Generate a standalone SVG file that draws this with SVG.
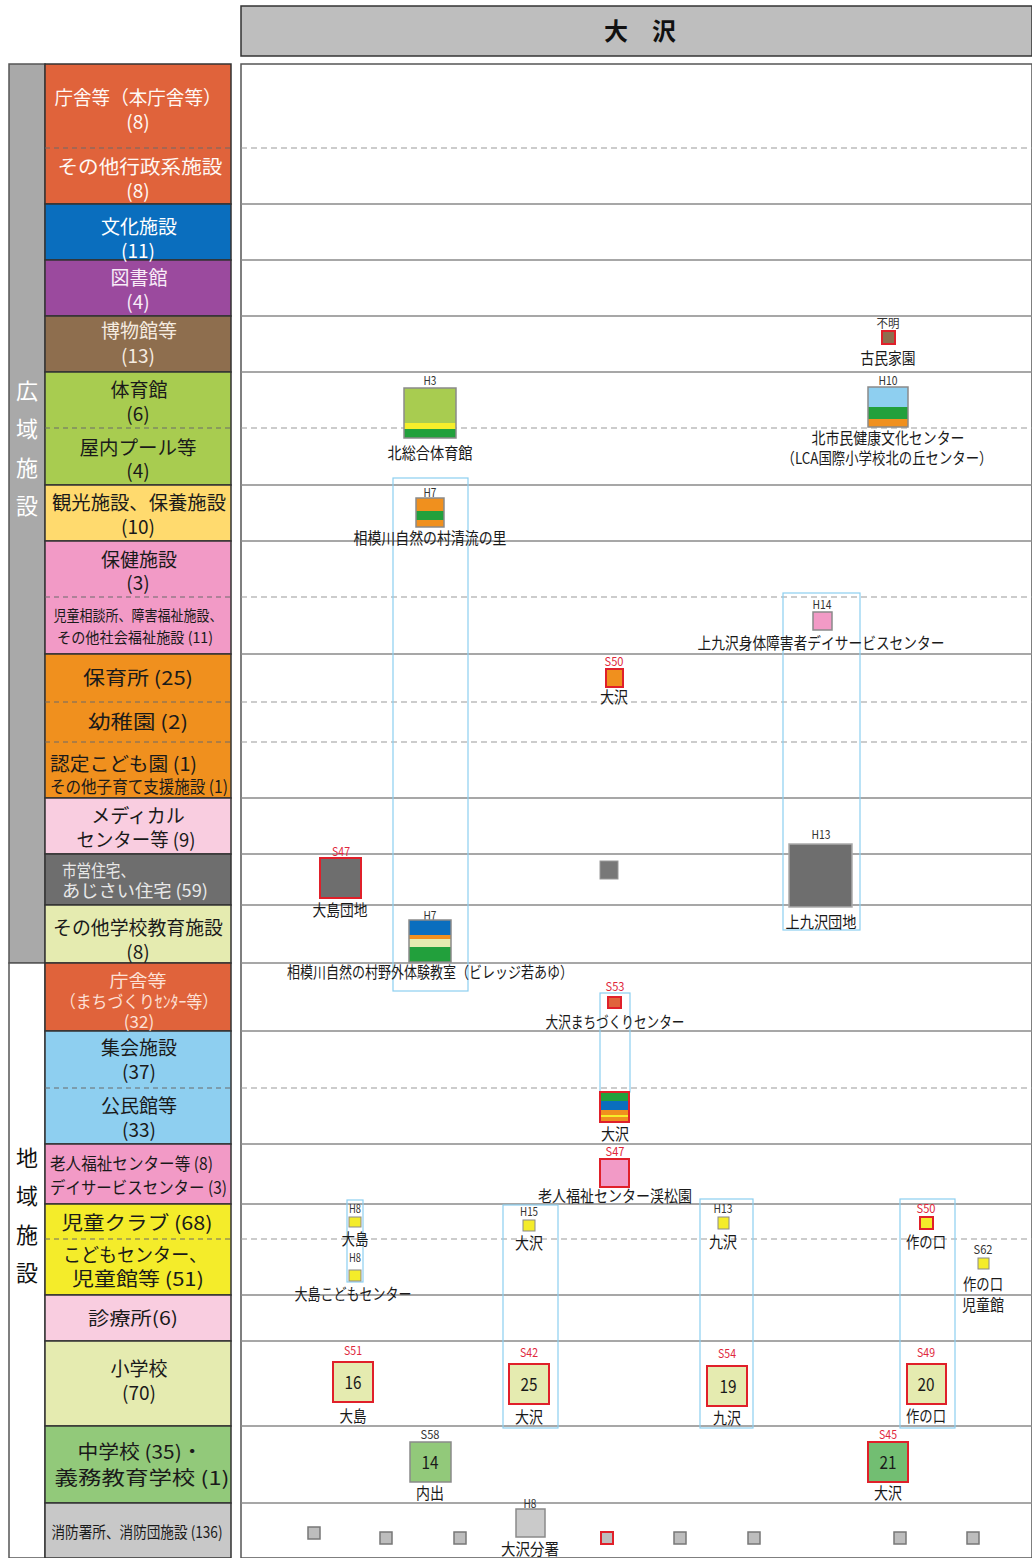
<svg xmlns="http://www.w3.org/2000/svg" width="1032" height="1558" viewBox="0 0 1032 1558">
<style>
text{font-family:"Noto Sans CJK JP","Noto Sans",sans-serif;text-anchor:middle;dominant-baseline:central}
.c{font-size:19px;fill:#1a1a1a}
.w{fill:#fff8f4}
.l{font-size:16px;fill:#1a1a1a}
.k{font-size:12px;fill:#333}
.r{fill:#E0283C}
.n{font-size:18px;fill:#1a1a1a}
.v{font-size:22px}
.sl{stroke:#8a8a8a;stroke-width:1.5;fill:none}
.dl{stroke:#9a9a9a;stroke-width:1.2;stroke-dasharray:6 4;fill:none}
.cd{stroke:#6a6a6a;stroke-width:1;stroke-dasharray:5 4;fill:none}
.cell{stroke:#333;stroke-width:1.5}
.grp{fill:none;stroke:#8CCFF0;stroke-width:1.2}
.bx{stroke:#8a8a8a;stroke-width:1.5}
.rb{stroke:#E0202A;stroke-width:2}
.fs{fill:#BDBDBD;stroke:#777;stroke-width:1.5}
</style>
<rect x="0" y="0" width="1032" height="1558" fill="#fff"/>

<g id="header">
<rect x="241" y="6" width="791" height="50" fill="#BEBEBE" stroke="#333" stroke-width="1.5"/>
<text x="640" y="29" font-size="24" font-weight="bold" fill="#111">大　沢</text>
</g>

<g id="panel">
<rect x="241" y="64" width="791" height="1494" fill="#fff" stroke="#555" stroke-width="1.5"/>
<g class="sl">
<line x1="241" y1="204" x2="1032" y2="204"/><line x1="241" y1="260" x2="1032" y2="260"/>
<line x1="241" y1="316" x2="1032" y2="316"/><line x1="241" y1="372" x2="1032" y2="372"/>
<line x1="241" y1="485" x2="1032" y2="485"/><line x1="241" y1="541" x2="1032" y2="541"/>
<line x1="241" y1="654" x2="1032" y2="654"/><line x1="241" y1="798" x2="1032" y2="798"/>
<line x1="241" y1="854" x2="1032" y2="854"/><line x1="241" y1="905" x2="1032" y2="905"/>
<line x1="241" y1="963" x2="1032" y2="963"/><line x1="241" y1="1031" x2="1032" y2="1031"/>
<line x1="241" y1="1144" x2="1032" y2="1144"/><line x1="241" y1="1204" x2="1032" y2="1204"/>
<line x1="241" y1="1295" x2="1032" y2="1295"/><line x1="241" y1="1341" x2="1032" y2="1341"/>
<line x1="241" y1="1426" x2="1032" y2="1426"/><line x1="241" y1="1503" x2="1032" y2="1503"/>
</g>
<g class="dl">
<line x1="241" y1="148" x2="1032" y2="148"/><line x1="241" y1="428" x2="1032" y2="428"/>
<line x1="241" y1="597" x2="1032" y2="597"/><line x1="241" y1="702" x2="1032" y2="702"/>
<line x1="241" y1="742" x2="1032" y2="742"/><line x1="241" y1="1088" x2="1032" y2="1088"/>
<line x1="241" y1="1239" x2="1032" y2="1239"/>
</g>
</g>

<g id="side">
<rect x="9" y="64" width="36" height="899" fill="#A9A9A9" stroke="#555" stroke-width="1.5"/>
<rect x="9" y="963" width="36" height="595" fill="#fff" stroke="#555" stroke-width="1.5"/>
<g class="v" fill="#fff">
<text x="27" y="389">広</text><text x="27" y="427">域</text><text x="27" y="466">施</text><text x="27" y="504">設</text>
</g>
<g class="v" fill="#111">
<text x="27" y="1156">地</text><text x="27" y="1194">域</text><text x="27" y="1233">施</text><text x="27" y="1271">設</text>
</g>
</g>

<g id="categories">
<rect class="cell" x="45" y="64" width="186" height="140" fill="#E0633B"/>
<line class="cd" x1="45" y1="148" x2="231" y2="148"/>
<rect class="cell" x="45" y="204" width="186" height="56" fill="#0A6EBE"/>
<rect class="cell" x="45" y="260" width="186" height="56" fill="#9B4A9E"/>
<rect class="cell" x="45" y="316" width="186" height="56" fill="#8E6E4E"/>
<rect class="cell" x="45" y="372" width="186" height="113" fill="#A8CC50"/>
<line class="cd" x1="45" y1="428" x2="231" y2="428"/>
<rect class="cell" x="45" y="485" width="186" height="56" fill="#FFDA6E"/>
<rect class="cell" x="45" y="541" width="186" height="113" fill="#F29AC6"/>
<line class="cd" x1="45" y1="597" x2="231" y2="597"/>
<rect class="cell" x="45" y="654" width="186" height="144" fill="#F0901E"/>
<line class="cd" x1="45" y1="702" x2="231" y2="702"/>
<line class="cd" x1="45" y1="742" x2="231" y2="742"/>
<rect class="cell" x="45" y="798" width="186" height="56" fill="#F9CDE0"/>
<rect class="cell" x="45" y="854" width="186" height="51" fill="#6E6E6E"/>
<rect class="cell" x="45" y="905" width="186" height="58" fill="#E5EBB0"/>
<rect class="cell" x="45" y="963" width="186" height="68" fill="#E0633B"/>
<rect class="cell" x="45" y="1031" width="186" height="113" fill="#8ECFF0"/>
<line class="cd" x1="45" y1="1088" x2="231" y2="1088"/>
<rect class="cell" x="45" y="1144" width="186" height="60" fill="#F29AC6"/>
<rect class="cell" x="45" y="1204" width="186" height="91" fill="#F4EC2A"/>
<line class="cd" x1="45" y1="1239" x2="231" y2="1239"/>
<rect class="cell" x="45" y="1295" width="186" height="46" fill="#F9CDE0"/>
<rect class="cell" x="45" y="1341" width="186" height="85" fill="#E5EBB0"/>
<rect class="cell" x="45" y="1426" width="186" height="77" fill="#92C97A"/>
<rect class="cell" x="45" y="1503" width="186" height="55" fill="#C8C8C8"/>

<text class="c w" x="138" y="96" textLength="167" lengthAdjust="spacingAndGlyphs">庁舎等（本庁舎等）</text>
<text class="c w" x="138" y="120">(8)</text>
<text class="c w" x="140" y="165" textLength="165" lengthAdjust="spacingAndGlyphs">その他行政系施設</text>
<text class="c w" x="138" y="189">(8)</text>
<text class="c" x="139" y="225" style="fill:#fff">文化施設</text>
<text class="c" x="138" y="249" style="fill:#fff">(11)</text>
<text class="c" x="139" y="276" style="fill:#f8ecf8">図書館</text>
<text class="c" x="138" y="300" style="fill:#f8ecf8">(4)</text>
<text class="c" x="139" y="329" style="fill:#f5ebe0">博物館等</text>
<text class="c" x="138" y="354" style="fill:#f5ebe0">(13)</text>
<text class="c" x="139" y="388">体育館</text>
<text class="c" x="138" y="412">(6)</text>
<text class="c" x="138" y="446" textLength="117" lengthAdjust="spacingAndGlyphs">屋内プール等</text>
<text class="c" x="138" y="469">(4)</text>
<text class="c" x="139" y="501" textLength="174" lengthAdjust="spacingAndGlyphs">観光施設、保養施設</text>
<text class="c" x="138" y="525">(10)</text>
<text class="c" x="139" y="558">保健施設</text>
<text class="c" x="138" y="581">(3)</text>
<text class="c" x="138" y="614" style="font-size:15px" textLength="169" lengthAdjust="spacingAndGlyphs">児童相談所、障害福祉施設、</text>
<text class="c" x="135" y="636" style="font-size:15px" textLength="156" lengthAdjust="spacingAndGlyphs">その他社会福祉施設 (11)</text>
<text class="c" x="138" y="676" textLength="110" lengthAdjust="spacingAndGlyphs">保育所 (25)</text>
<text class="c" x="138" y="720" textLength="100" lengthAdjust="spacingAndGlyphs">幼稚園 (2)</text>
<text class="c" x="50" y="762" style="text-anchor:start" textLength="147" lengthAdjust="spacingAndGlyphs">認定こども園 (1)</text>
<text class="c" x="50" y="785" style="text-anchor:start;font-size:17px" textLength="178" lengthAdjust="spacingAndGlyphs">その他子育て支援施設 (1)</text>
<text class="c" x="138" y="814">メディカル</text>
<text class="c" x="136" y="838" textLength="119" lengthAdjust="spacingAndGlyphs">センター等 (9)</text>
<text class="c" x="62" y="869" style="text-anchor:start;fill:#e8e8e8;font-size:17px" textLength="73" lengthAdjust="spacingAndGlyphs">市営住宅、</text>
<text class="c" x="62" y="889" style="text-anchor:start;fill:#e8e8e8;font-size:17px" textLength="146" lengthAdjust="spacingAndGlyphs">あじさい住宅 (59)</text>
<text class="c" x="138" y="926" textLength="170" lengthAdjust="spacingAndGlyphs">その他学校教育施設</text>
<text class="c" x="138" y="950">(8)</text>
<text class="c" x="138" y="979" style="fill:#fde0d6;font-size:17px" textLength="57" lengthAdjust="spacingAndGlyphs">庁舎等</text>
<text class="c" x="139" y="1000" style="fill:#fde0d6;font-size:17px" textLength="158" lengthAdjust="spacingAndGlyphs">（まちづくりｾﾝﾀｰ等）</text>
<text class="c" x="139" y="1020" style="fill:#fde0d6;font-size:17px">(32)</text>
<text class="c" x="139" y="1046">集会施設</text>
<text class="c" x="139" y="1070">(37)</text>
<text class="c" x="139" y="1104">公民館等</text>
<text class="c" x="139" y="1128">(33)</text>
<text class="c" x="50" y="1162" style="text-anchor:start;font-size:17px" textLength="163" lengthAdjust="spacingAndGlyphs">老人福祉センター等 (8)</text>
<text class="c" x="50" y="1186" style="text-anchor:start;font-size:17px" textLength="177" lengthAdjust="spacingAndGlyphs">デイサービスセンター (3)</text>
<text class="c" x="137" y="1221" textLength="151" lengthAdjust="spacingAndGlyphs">児童クラブ (68)</text>
<text class="c" x="135" y="1253" textLength="144" lengthAdjust="spacingAndGlyphs">こどもセンター、</text>
<text class="c" x="138" y="1277" textLength="132" lengthAdjust="spacingAndGlyphs">児童館等 (51)</text>
<text class="c" x="133" y="1317" style="font-size:18px" textLength="90" lengthAdjust="spacingAndGlyphs">診療所(6)</text>
<text class="c" x="139" y="1367">小学校</text>
<text class="c" x="139" y="1391">(70)</text>
<text class="c" x="140" y="1450" textLength="125" lengthAdjust="spacingAndGlyphs">中学校 (35)・</text>
<text class="c" x="142" y="1476" textLength="175" lengthAdjust="spacingAndGlyphs">義務教育学校 (1)</text>
<text class="c" x="137" y="1531" style="font-size:16px" textLength="171" lengthAdjust="spacingAndGlyphs">消防署所、消防団施設 (136)</text>
</g>

<g id="connectors">
<rect class="grp" x="393" y="478" width="75" height="513"/>
<rect class="grp" x="783" y="593" width="77" height="337"/>
<rect class="grp" x="600" y="993" width="30" height="99"/>
<rect class="grp" x="347" y="1200" width="16" height="82"/>
<rect class="grp" x="503" y="1205" width="55" height="223"/>
<rect class="grp" x="700" y="1199" width="53" height="229"/>
<rect class="grp" x="900" y="1199" width="55" height="229"/>
</g>

<g id="node-kominkaen">
<text class="k" x="888" y="322" textLength="23" lengthAdjust="spacingAndGlyphs">不明</text>
<rect class="rb" x="882" y="331" width="13" height="13" fill="#8E6E4E"/>
<text class="l" x="888" y="357" textLength="55" lengthAdjust="spacingAndGlyphs">古民家園</text>
</g>

<g id="node-kitashimin">
<text class="k" x="888" y="379" textLength="19" lengthAdjust="spacingAndGlyphs">H10</text>
<rect x="868" y="387" width="40" height="20" fill="#8ECFF0"/>
<rect x="868" y="407" width="40" height="12" fill="#22A03C"/>
<rect x="868" y="419" width="40" height="8" fill="#F0901E"/>
<rect class="bx" x="868" y="387" width="40" height="40" fill="none"/>
<text class="l" x="888" y="437" textLength="153" lengthAdjust="spacingAndGlyphs">北市民健康文化センター</text>
<text class="l" x="887" y="457" textLength="211" lengthAdjust="spacingAndGlyphs">（LCA国際小学校北の丘センター）</text>
</g>

<g id="node-kitasogo">
<text class="k" x="430" y="379" textLength="13" lengthAdjust="spacingAndGlyphs">H3</text>
<rect x="404" y="388" width="52" height="35" fill="#A8CC50"/>
<rect x="404" y="423" width="52" height="6" fill="#F5EE2A"/>
<rect x="404" y="429" width="52" height="9" fill="#22A03C"/>
<rect class="bx" x="404" y="388" width="52" height="50" fill="none"/>
<text class="l" x="430" y="452" textLength="85" lengthAdjust="spacingAndGlyphs">北総合体育館</text>
</g>

<g id="node-seiryu">
<text class="k" x="430" y="491" textLength="13" lengthAdjust="spacingAndGlyphs">H7</text>
<rect x="416" y="498" width="28" height="13" fill="#F0901E"/>
<rect x="416" y="511" width="28" height="9" fill="#22A03C"/>
<rect x="416" y="520" width="28" height="7" fill="#F0901E"/>
<rect class="bx" x="416" y="498" width="28" height="29" fill="none"/>
<text class="l" x="430" y="537" textLength="153" lengthAdjust="spacingAndGlyphs">相模川自然の村清流の里</text>
</g>

<g id="node-kamikuzawa-day">
<text class="k" x="822" y="603" textLength="19" lengthAdjust="spacingAndGlyphs">H14</text>
<rect class="bx" x="813" y="612" width="19" height="18" fill="#F29AC6"/>
<text class="l" x="821" y="642" textLength="247" lengthAdjust="spacingAndGlyphs">上九沢身体障害者デイサービスセンター</text>
</g>

<g id="node-hoikusho-osawa">
<text class="k r" x="614" y="660" textLength="19" lengthAdjust="spacingAndGlyphs">S50</text>
<rect class="rb" x="606" y="669" width="17" height="18" fill="#F0901E"/>
<text class="l" x="614" y="696" textLength="28" lengthAdjust="spacingAndGlyphs">大沢</text>
</g>

<g id="node-oshima-danchi">
<text class="k r" x="341" y="850" textLength="18" lengthAdjust="spacingAndGlyphs">S47</text>
<rect class="rb" x="320" y="858" width="41" height="40" fill="#6E6E6E"/>
<text class="l" x="340" y="909" textLength="55" lengthAdjust="spacingAndGlyphs">大島団地</text>
</g>

<g id="node-jutaku-gray">
<rect x="600" y="861" width="18" height="18" fill="#787878" stroke="#9a9a9a" stroke-width="1"/>
</g>

<g id="node-kamikuzawa-danchi">
<text class="k" x="821" y="833" textLength="19" lengthAdjust="spacingAndGlyphs">H13</text>
<rect x="789" y="844" width="63" height="63" fill="#6E6E6E" stroke="#aaa" stroke-width="1.5"/>
<text class="l" x="821" y="921" textLength="71" lengthAdjust="spacingAndGlyphs">上九沢団地</text>
</g>

<g id="node-village">
<text class="k" x="430" y="914" textLength="13" lengthAdjust="spacingAndGlyphs">H7</text>
<rect x="409" y="920" width="42" height="15" fill="#0A6EBE"/>
<rect x="409" y="935" width="42" height="4" fill="#F0901E"/>
<rect x="409" y="939" width="42" height="8" fill="#E5EBB0"/>
<rect x="409" y="947" width="42" height="15" fill="#22A03C"/>
<rect class="bx" x="409" y="920" width="42" height="42" fill="none"/>
<text class="l" x="430" y="971" textLength="286" lengthAdjust="spacingAndGlyphs">相模川自然の村野外体験教室（ビレッジ若あゆ）</text>
</g>

<g id="node-machizukuri">
<text class="k r" x="615" y="985" textLength="19" lengthAdjust="spacingAndGlyphs">S53</text>
<rect class="rb" x="608" y="997" width="13" height="11" fill="#E0633B"/>
<text class="l" x="615" y="1021" textLength="139" lengthAdjust="spacingAndGlyphs">大沢まちづくりセンター</text>
</g>

<g id="node-kominkan-osawa">
<rect x="600" y="1092" width="29" height="9" fill="#22A03C"/>
<rect x="600" y="1101" width="29" height="9" fill="#0A6EBE"/>
<rect x="600" y="1110" width="29" height="5" fill="#F0901E"/>
<rect x="600" y="1115" width="29" height="2" fill="#F5EE2A"/>
<rect x="600" y="1117" width="29" height="5" fill="#F0901E"/>
<rect class="rb" x="600" y="1092" width="29" height="30" fill="none"/>
<text class="l" x="615" y="1133" textLength="28" lengthAdjust="spacingAndGlyphs">大沢</text>
</g>

<g id="node-keishoen">
<text class="k r" x="615" y="1150" textLength="19" lengthAdjust="spacingAndGlyphs">S47</text>
<rect class="rb" x="600" y="1159" width="29" height="28" fill="#F29AC6"/>
<text class="l" x="615" y="1195" textLength="154" lengthAdjust="spacingAndGlyphs">老人福祉センター渓松園</text>
</g>

<g id="node-oshima-club">
<text class="k" x="355" y="1207" textLength="12" lengthAdjust="spacingAndGlyphs">H8</text>
<rect class="bx" x="349" y="1217" width="12" height="10" fill="#F4EC2A" style="stroke-width:1"/>
<text class="l" x="355" y="1238" textLength="27" lengthAdjust="spacingAndGlyphs">大島</text>
</g>

<g id="node-oshima-kodomo">
<text class="k" x="355" y="1256" textLength="12" lengthAdjust="spacingAndGlyphs">H8</text>
<rect class="bx" x="349" y="1270" width="12" height="11" fill="#F4EC2A" style="stroke-width:1"/>
<text class="l" x="353" y="1293" textLength="117" lengthAdjust="spacingAndGlyphs">大島こどもセンター</text>
</g>

<g id="node-osawa-club">
<text class="k" x="529" y="1210" textLength="18" lengthAdjust="spacingAndGlyphs">H15</text>
<rect class="bx" x="523" y="1220" width="12" height="11" fill="#F4EC2A" style="stroke-width:1"/>
<text class="l" x="529" y="1242" textLength="28" lengthAdjust="spacingAndGlyphs">大沢</text>
</g>

<g id="node-kuzawa-club">
<text class="k" x="723" y="1207" textLength="19" lengthAdjust="spacingAndGlyphs">H13</text>
<rect class="bx" x="718" y="1217" width="11" height="12" fill="#F4EC2A" style="stroke-width:1"/>
<text class="l" x="723" y="1241" textLength="28" lengthAdjust="spacingAndGlyphs">九沢</text>
</g>

<g id="node-sakunokuchi-club">
<text class="k r" x="926" y="1207" textLength="19" lengthAdjust="spacingAndGlyphs">S50</text>
<rect class="rb" x="920" y="1217" width="13" height="12" fill="#F4EC2A"/>
<text class="l" x="926" y="1241" textLength="40" lengthAdjust="spacingAndGlyphs">作の口</text>
</g>

<g id="node-sakunokuchi-jidokan">
<text class="k" x="983" y="1248" textLength="19" lengthAdjust="spacingAndGlyphs">S62</text>
<rect class="bx" x="978" y="1258" width="11" height="11" fill="#F4EC2A" style="stroke-width:1"/>
<text class="l" x="983" y="1283" textLength="40" lengthAdjust="spacingAndGlyphs">作の口</text>
<text class="l" x="983" y="1304" textLength="42" lengthAdjust="spacingAndGlyphs">児童館</text>
</g>

<g id="node-es-oshima">
<text class="k r" x="353" y="1349" textLength="18" lengthAdjust="spacingAndGlyphs">S51</text>
<rect class="rb" x="333" y="1362" width="40" height="40" fill="#E5EBB0"/>
<text class="n" x="353" y="1381" textLength="17" lengthAdjust="spacingAndGlyphs">16</text>
<text class="l" x="353" y="1415" textLength="27" lengthAdjust="spacingAndGlyphs">大島</text>
</g>

<g id="node-es-osawa">
<text class="k r" x="529" y="1351" textLength="18" lengthAdjust="spacingAndGlyphs">S42</text>
<rect class="rb" x="509" y="1364" width="40" height="40" fill="#E5EBB0"/>
<text class="n" x="529" y="1383" textLength="17" lengthAdjust="spacingAndGlyphs">25</text>
<text class="l" x="529" y="1416" textLength="28" lengthAdjust="spacingAndGlyphs">大沢</text>
</g>

<g id="node-es-kuzawa">
<text class="k r" x="727" y="1352" textLength="18" lengthAdjust="spacingAndGlyphs">S54</text>
<rect class="rb" x="707" y="1366" width="40" height="40" fill="#E5EBB0"/>
<text class="n" x="728" y="1385" textLength="17" lengthAdjust="spacingAndGlyphs">19</text>
<text class="l" x="727" y="1417" textLength="28" lengthAdjust="spacingAndGlyphs">九沢</text>
</g>

<g id="node-es-sakunokuchi">
<text class="k r" x="926" y="1351" textLength="18" lengthAdjust="spacingAndGlyphs">S49</text>
<rect class="rb" x="907" y="1364" width="39" height="40" fill="#E5EBB0"/>
<text class="n" x="926" y="1383" textLength="17" lengthAdjust="spacingAndGlyphs">20</text>
<text class="l" x="926" y="1415" textLength="40" lengthAdjust="spacingAndGlyphs">作の口</text>
</g>

<g id="node-jhs-uchide">
<text class="k" x="430" y="1433" textLength="19" lengthAdjust="spacingAndGlyphs">S58</text>
<rect class="bx" x="410" y="1442" width="41" height="40" fill="#92C97A"/>
<text class="n" x="430" y="1461" textLength="17" lengthAdjust="spacingAndGlyphs">14</text>
<text class="l" x="430" y="1492" textLength="28" lengthAdjust="spacingAndGlyphs">内出</text>
</g>

<g id="node-jhs-osawa">
<text class="k r" x="888" y="1433" textLength="18" lengthAdjust="spacingAndGlyphs">S45</text>
<rect class="rb" x="868" y="1442" width="40" height="40" fill="#72BE72"/>
<text class="n" x="888" y="1461" textLength="17" lengthAdjust="spacingAndGlyphs">21</text>
<text class="l" x="888" y="1492" textLength="28" lengthAdjust="spacingAndGlyphs">大沢</text>
</g>

<g id="node-fire-1"><rect class="fs" x="308" y="1527" width="12" height="12"/></g>
<g id="node-fire-2"><rect class="fs" x="380" y="1532" width="12" height="12"/></g>
<g id="node-fire-3"><rect class="fs" x="454" y="1532" width="12" height="12"/></g>
<g id="node-fire-osawa-bunsho">
<text class="k" x="530" y="1502" textLength="13" lengthAdjust="spacingAndGlyphs">H8</text>
<rect class="bx" x="516" y="1509" width="29" height="28" fill="#CACACA"/>
<text class="l" x="530" y="1548" textLength="58" lengthAdjust="spacingAndGlyphs">大沢分署</text>
</g>
<g id="node-fire-5"><rect x="601" y="1532" width="12" height="12" fill="#BDBDBD" stroke="#E0202A" stroke-width="2"/></g>
<g id="node-fire-6"><rect class="fs" x="674" y="1532" width="12" height="12"/></g>
<g id="node-fire-7"><rect class="fs" x="748" y="1532" width="12" height="12"/></g>
<g id="node-fire-8"><rect class="fs" x="894" y="1532" width="12" height="12"/></g>
<g id="node-fire-9"><rect class="fs" x="967" y="1532" width="12" height="12"/></g>
</svg>
